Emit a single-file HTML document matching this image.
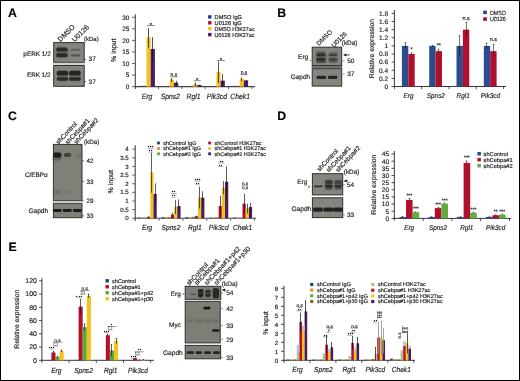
<!DOCTYPE html>
<html><head><meta charset="utf-8"><style>
html,body{margin:0;padding:0;background:#fff;}
body{width:520px;height:381px;overflow:hidden;position:relative;font-family:"Liberation Sans", sans-serif;}
svg text{text-rendering:geometricPrecision;font-family:"Liberation Sans", sans-serif;stroke:#222;stroke-width:0.16px;}
.frame{position:absolute;left:0;top:0;width:518px;height:379px;border:1px solid #000;pointer-events:none;}
</style></head><body>
<svg width="520" height="381" viewBox="0 0 520 381" style="display:block;will-change:transform">
<defs><filter id="b1" x="-50%" y="-100%" width="200%" height="300%"><feGaussianBlur stdDeviation="0.6"/></filter><filter id="b2" x="-50%" y="-100%" width="200%" height="300%"><feGaussianBlur stdDeviation="0.9"/></filter><filter id="b3" x="-50%" y="-100%" width="200%" height="300%"><feGaussianBlur stdDeviation="1.3"/></filter></defs>
<rect x="0.00" y="0.00" width="520.00" height="381.00" fill="#fff"/>
<text x="8.00" y="17.10" font-size="12.3" fill="#000" font-weight="bold">A</text>
<text x="50.70" y="56.00" font-size="6.4" fill="#222" text-anchor="end">pERK 1/2</text>
<text x="50.70" y="76.70" font-size="6.4" fill="#222" text-anchor="end">ERK 1/2</text>
<rect x="53.70" y="42.60" width="30.50" height="19.80" fill="#83867d" stroke="#2f302c" stroke-width="1"/>
<rect x="53.70" y="65.50" width="30.50" height="20.80" fill="#83867d" stroke="#2f302c" stroke-width="1"/>
<rect x="53.20" y="62.80" width="31.50" height="2.20" fill="#d4d4d2"/>
<rect x="55.70" y="47.10" width="12.60" height="10.60" rx="4.24" fill="#3a3b36" opacity="0.35" filter="url(#b2)"/>
<rect x="56.20" y="47.60" width="11.40" height="4.00" rx="1.60" fill="#2a2a28" opacity="1.0" filter="url(#b1)"/>
<rect x="56.20" y="53.30" width="11.40" height="4.00" rx="1.60" fill="#2a2a28" opacity="1.0" filter="url(#b1)"/>
<rect x="70.80" y="48.85" width="9.60" height="1.90" rx="0.76" fill="#5c5d57" opacity="0.9" filter="url(#b1)"/>
<rect x="70.80" y="54.30" width="9.60" height="2.20" rx="0.88" fill="#55564f" opacity="0.95" filter="url(#b1)"/>
<rect x="56.30" y="70.60" width="12.20" height="10.80" rx="4.32" fill="#3a3b36" opacity="0.3" filter="url(#b2)"/>
<rect x="68.70" y="70.60" width="12.40" height="10.80" rx="4.32" fill="#3a3b36" opacity="0.3" filter="url(#b2)"/>
<rect x="56.70" y="70.80" width="11.40" height="4.60" rx="1.84" fill="#262624" opacity="1.0" filter="url(#b1)"/>
<rect x="56.80" y="77.30" width="11.20" height="3.40" rx="1.36" fill="#2a2a28" opacity="1.0" filter="url(#b1)"/>
<rect x="69.10" y="70.80" width="11.60" height="4.60" rx="1.84" fill="#262624" opacity="1.0" filter="url(#b1)"/>
<rect x="69.20" y="77.30" width="11.40" height="3.40" rx="1.36" fill="#2a2a28" opacity="1.0" filter="url(#b1)"/>
<text x="60.60" y="42.20" font-size="7.0" fill="#222" transform="rotate(-45 60.60 42.20)">DMSO</text>
<text x="74.80" y="42.30" font-size="7.0" fill="#222" transform="rotate(-45 74.80 42.30)">U0126</text>
<text x="84.00" y="41.30" font-size="6.0" fill="#222">(kDa)</text>
<text x="88.60" y="61.40" font-size="6.5" fill="#222">37</text>
<text x="88.60" y="83.90" font-size="6.5" fill="#222">37</text>
<line x1="84.60" y1="59.50" x2="86.20" y2="59.50" stroke="#333" stroke-width="0.7"/>
<line x1="84.60" y1="81.60" x2="86.20" y2="81.60" stroke="#333" stroke-width="0.7"/>
<line x1="135.30" y1="14.20" x2="135.30" y2="89.10" stroke="#444" stroke-width="1.1"/>
<line x1="134.80" y1="86.60" x2="255.00" y2="86.60" stroke="#444" stroke-width="1.1"/>
<line x1="132.00" y1="86.60" x2="135.30" y2="86.60" stroke="#444" stroke-width="0.8"/>
<text x="129.30" y="88.90" font-size="6.4" fill="#222" text-anchor="end">0</text>
<line x1="132.00" y1="75.05" x2="135.30" y2="75.05" stroke="#444" stroke-width="0.8"/>
<text x="129.30" y="77.35" font-size="6.4" fill="#222" text-anchor="end">5</text>
<line x1="132.00" y1="63.50" x2="135.30" y2="63.50" stroke="#444" stroke-width="0.8"/>
<text x="129.30" y="65.80" font-size="6.4" fill="#222" text-anchor="end">10</text>
<line x1="132.00" y1="51.95" x2="135.30" y2="51.95" stroke="#444" stroke-width="0.8"/>
<text x="129.30" y="54.25" font-size="6.4" fill="#222" text-anchor="end">15</text>
<line x1="132.00" y1="40.40" x2="135.30" y2="40.40" stroke="#444" stroke-width="0.8"/>
<text x="129.30" y="42.70" font-size="6.4" fill="#222" text-anchor="end">20</text>
<line x1="132.00" y1="28.85" x2="135.30" y2="28.85" stroke="#444" stroke-width="0.8"/>
<text x="129.30" y="31.15" font-size="6.4" fill="#222" text-anchor="end">25</text>
<line x1="132.00" y1="17.30" x2="135.30" y2="17.30" stroke="#444" stroke-width="0.8"/>
<text x="129.30" y="19.60" font-size="6.4" fill="#222" text-anchor="end">30</text>
<text x="116.30" y="50.20" font-size="7.0" fill="#222" text-anchor="middle" transform="rotate(-90 116.30 50.20)">% input</text>
<line x1="158.60" y1="86.60" x2="158.60" y2="89.20" stroke="#444" stroke-width="0.8"/>
<line x1="181.90" y1="86.60" x2="181.90" y2="89.20" stroke="#444" stroke-width="0.8"/>
<line x1="205.20" y1="86.60" x2="205.20" y2="89.20" stroke="#444" stroke-width="0.8"/>
<line x1="228.50" y1="86.60" x2="228.50" y2="89.20" stroke="#444" stroke-width="0.8"/>
<line x1="251.80" y1="86.60" x2="251.80" y2="89.20" stroke="#444" stroke-width="0.8"/>
<rect x="138.10" y="85.92" width="4.20" height="0.68" fill="#1f3e8a"/>
<rect x="142.30" y="85.85" width="4.20" height="0.75" fill="#b3102c"/>
<rect x="146.50" y="37.46" width="4.20" height="49.14" fill="#f3c21a"/>
<rect x="150.70" y="49.01" width="4.20" height="37.59" fill="#4a1a66"/>
<line x1="148.50" y1="47.56" x2="148.50" y2="28.16" stroke="#1a1a1a" stroke-width="0.75"/>
<line x1="152.50" y1="61.65" x2="152.50" y2="37.17" stroke="#1a1a1a" stroke-width="0.75"/>
<text x="146.95" y="98.60" font-size="7.7" fill="#222" text-anchor="middle" font-style="italic" textLength="10.57" lengthAdjust="spacingAndGlyphs">Erg</text>
<rect x="161.40" y="85.97" width="4.20" height="0.63" fill="#1f3e8a"/>
<rect x="165.60" y="85.97" width="4.20" height="0.63" fill="#b3102c"/>
<rect x="169.80" y="79.59" width="4.20" height="7.01" fill="#f3c21a"/>
<rect x="174.00" y="82.73" width="4.20" height="3.86" fill="#4a1a66"/>
<line x1="171.50" y1="81.93" x2="171.50" y2="78.05" stroke="#1a1a1a" stroke-width="0.75"/>
<line x1="176.50" y1="85.44" x2="176.50" y2="80.82" stroke="#1a1a1a" stroke-width="0.75"/>
<text x="170.25" y="98.60" font-size="7.7" fill="#222" text-anchor="middle" font-style="italic" textLength="19.25" lengthAdjust="spacingAndGlyphs">Spns2</text>
<rect x="184.70" y="85.97" width="4.20" height="0.63" fill="#1f3e8a"/>
<rect x="188.90" y="85.97" width="4.20" height="0.63" fill="#b3102c"/>
<rect x="193.10" y="83.89" width="4.20" height="2.71" fill="#f3c21a"/>
<rect x="197.30" y="85.04" width="4.20" height="1.56" fill="#4a1a66"/>
<line x1="195.50" y1="86.14" x2="195.50" y2="82.44" stroke="#1a1a1a" stroke-width="0.75"/>
<line x1="199.50" y1="86.14" x2="199.50" y2="84.75" stroke="#1a1a1a" stroke-width="0.75"/>
<text x="193.55" y="98.60" font-size="7.7" fill="#222" text-anchor="middle" font-style="italic" textLength="13.96" lengthAdjust="spacingAndGlyphs">Rgl1</text>
<rect x="208.00" y="85.97" width="4.20" height="0.63" fill="#1f3e8a"/>
<rect x="212.20" y="85.97" width="4.20" height="0.63" fill="#b3102c"/>
<rect x="216.40" y="71.88" width="4.20" height="14.72" fill="#f3c21a"/>
<rect x="220.60" y="80.66" width="4.20" height="5.94" fill="#4a1a66"/>
<line x1="218.50" y1="83.13" x2="218.50" y2="61.42" stroke="#1a1a1a" stroke-width="0.75"/>
<line x1="222.50" y1="86.60" x2="222.50" y2="74.13" stroke="#1a1a1a" stroke-width="0.75"/>
<text x="216.85" y="98.60" font-size="7.7" fill="#222" text-anchor="middle" font-style="italic" textLength="20.38" lengthAdjust="spacingAndGlyphs">Pik3cd</text>
<rect x="231.30" y="85.92" width="4.20" height="0.68" fill="#1f3e8a"/>
<rect x="235.50" y="85.92" width="4.20" height="0.68" fill="#b3102c"/>
<rect x="239.70" y="78.81" width="4.20" height="7.79" fill="#f3c21a"/>
<rect x="243.90" y="80.42" width="4.20" height="6.18" fill="#4a1a66"/>
<line x1="241.50" y1="81.06" x2="241.50" y2="77.36" stroke="#1a1a1a" stroke-width="0.75"/>
<line x1="246.50" y1="81.75" x2="246.50" y2="79.90" stroke="#1a1a1a" stroke-width="0.75"/>
<text x="240.15" y="98.60" font-size="7.7" fill="#222" text-anchor="middle" font-style="italic" textLength="19.63" lengthAdjust="spacingAndGlyphs">Chek1</text>
<line x1="147.00" y1="25.50" x2="154.70" y2="25.50" stroke="#333" stroke-width="0.6"/>
<text x="150.85" y="26.80" font-size="6" fill="#222" text-anchor="middle">*</text>
<line x1="170.20" y1="76.80" x2="177.70" y2="76.80" stroke="#333" stroke-width="0.6"/>
<text x="173.95" y="75.90" font-size="5" fill="#222" text-anchor="middle">n.s</text>
<line x1="193.70" y1="80.70" x2="200.70" y2="80.70" stroke="#333" stroke-width="0.6"/>
<text x="197.20" y="82.00" font-size="6" fill="#222" text-anchor="middle">*</text>
<line x1="217.00" y1="60.50" x2="224.80" y2="60.50" stroke="#333" stroke-width="0.6"/>
<text x="220.90" y="61.80" font-size="6" fill="#222" text-anchor="middle">*</text>
<line x1="240.50" y1="74.60" x2="247.50" y2="74.60" stroke="#333" stroke-width="0.6"/>
<text x="244.00" y="73.70" font-size="5" fill="#222" text-anchor="middle">n.s</text>
<rect x="208.10" y="15.20" width="3.40" height="3.40" fill="#1f3e8a"/>
<text x="214.60" y="18.90" font-size="5.6" fill="#222">DMSO IgG</text>
<rect x="208.10" y="21.10" width="3.40" height="3.40" fill="#b3102c"/>
<text x="214.60" y="24.80" font-size="5.6" fill="#222">U0126 IgG</text>
<rect x="208.10" y="27.00" width="3.40" height="3.40" fill="#f3c21a"/>
<text x="214.60" y="30.70" font-size="5.6" fill="#222" textLength="40.00" lengthAdjust="spacingAndGlyphs">DMSO H3K27ac</text>
<rect x="208.10" y="32.90" width="3.40" height="3.40" fill="#4a1a66"/>
<text x="214.60" y="36.60" font-size="5.6" fill="#222" textLength="40.00" lengthAdjust="spacingAndGlyphs">U0126 H3K27ac</text>
<text x="277.20" y="16.70" font-size="12.3" fill="#000" font-weight="bold">B</text>
<text x="308.20" y="59.10" font-size="6.5" fill="#222" text-anchor="end">Erg</text>
<text x="310.20" y="78.70" font-size="6.5" fill="#222" text-anchor="end">Gapdh</text>
<rect x="312.20" y="47.20" width="29.50" height="18.30" fill="#83867d" stroke="#2f302c" stroke-width="1"/>
<rect x="311.70" y="65.90" width="30.50" height="2.30" fill="#70736f"/>
<rect x="312.20" y="68.70" width="29.50" height="17.40" fill="#83867d" stroke="#2f302c" stroke-width="1"/>
<rect x="316.20" y="52.15" width="9.60" height="10.50" rx="3.84" fill="#3c3d38" opacity="0.55" filter="url(#b2)"/>
<rect x="316.30" y="51.80" width="9.40" height="1.60" rx="0.64" fill="#262624" opacity="0.45" filter="url(#b1)"/>
<rect x="316.30" y="53.70" width="9.40" height="2.60" rx="1.04" fill="#262624" opacity="0.85" filter="url(#b1)"/>
<rect x="316.30" y="58.00" width="9.40" height="2.80" rx="1.12" fill="#262624" opacity="0.9" filter="url(#b1)"/>
<rect x="316.30" y="60.80" width="9.40" height="2.00" rx="0.80" fill="#262624" opacity="0.6" filter="url(#b1)"/>
<rect x="328.60" y="52.90" width="9.00" height="9.00" rx="3.60" fill="#454640" opacity="0.4" filter="url(#b2)"/>
<rect x="328.70" y="52.10" width="8.80" height="1.40" rx="0.56" fill="#2c2c2a" opacity="0.3" filter="url(#b1)"/>
<rect x="328.70" y="53.90" width="8.80" height="2.20" rx="0.88" fill="#2c2c2a" opacity="0.7" filter="url(#b1)"/>
<rect x="328.70" y="58.20" width="8.80" height="2.40" rx="0.96" fill="#2c2c2a" opacity="0.7" filter="url(#b1)"/>
<rect x="328.70" y="60.60" width="8.80" height="1.80" rx="0.72" fill="#2c2c2a" opacity="0.45" filter="url(#b1)"/>
<rect x="316.50" y="75.70" width="9.60" height="3.20" rx="1.28" fill="#262624" opacity="1.0" filter="url(#b1)"/>
<rect x="327.90" y="75.70" width="9.40" height="3.20" rx="1.28" fill="#262624" opacity="1.0" filter="url(#b1)"/>
<line x1="310.00" y1="60.40" x2="311.00" y2="60.40" stroke="#222" stroke-width="0.8"/>
<text x="319.10" y="46.00" font-size="6.4" fill="#222" transform="rotate(-45 319.10 46.00)">DMSO</text>
<text x="334.00" y="47.70" font-size="6.4" fill="#222" transform="rotate(-45 334.00 47.70)">U0126</text>
<text x="341.80" y="45.40" font-size="6.4" fill="#222">(kDa)</text>
<path d="M343.2 54.9 L346.2 53.4 L346.2 56.4 Z" fill="#111"/>
<line x1="345.50" y1="54.90" x2="349.80" y2="54.90" stroke="#111" stroke-width="0.8"/>
<text x="347.20" y="63.10" font-size="6.5" fill="#222">50</text>
<text x="347.20" y="76.40" font-size="6.5" fill="#222">37</text>
<line x1="343.20" y1="60.90" x2="344.40" y2="60.90" stroke="#333" stroke-width="0.7"/>
<line x1="343.20" y1="74.10" x2="344.40" y2="74.10" stroke="#333" stroke-width="0.7"/>
<line x1="394.40" y1="10.00" x2="394.40" y2="88.80" stroke="#222" stroke-width="0.9"/>
<line x1="393.90" y1="86.50" x2="506.00" y2="86.50" stroke="#222" stroke-width="0.9"/>
<line x1="391.60" y1="86.50" x2="394.40" y2="86.50" stroke="#222" stroke-width="0.8"/>
<text x="388.20" y="88.80" font-size="6.6" fill="#222" text-anchor="end">0</text>
<line x1="391.60" y1="78.38" x2="394.40" y2="78.38" stroke="#222" stroke-width="0.8"/>
<text x="388.20" y="80.68" font-size="6.6" fill="#222" text-anchor="end">0.2</text>
<line x1="391.60" y1="70.26" x2="394.40" y2="70.26" stroke="#222" stroke-width="0.8"/>
<text x="388.20" y="72.56" font-size="6.6" fill="#222" text-anchor="end">0.4</text>
<line x1="391.60" y1="62.14" x2="394.40" y2="62.14" stroke="#222" stroke-width="0.8"/>
<text x="388.20" y="64.44" font-size="6.6" fill="#222" text-anchor="end">0.6</text>
<line x1="391.60" y1="54.02" x2="394.40" y2="54.02" stroke="#222" stroke-width="0.8"/>
<text x="388.20" y="56.32" font-size="6.6" fill="#222" text-anchor="end">0.8</text>
<line x1="391.60" y1="45.90" x2="394.40" y2="45.90" stroke="#222" stroke-width="0.8"/>
<text x="388.20" y="48.20" font-size="6.6" fill="#222" text-anchor="end">1</text>
<line x1="391.60" y1="37.78" x2="394.40" y2="37.78" stroke="#222" stroke-width="0.8"/>
<text x="388.20" y="40.08" font-size="6.6" fill="#222" text-anchor="end">1.2</text>
<line x1="391.60" y1="29.66" x2="394.40" y2="29.66" stroke="#222" stroke-width="0.8"/>
<text x="388.20" y="31.96" font-size="6.6" fill="#222" text-anchor="end">1.4</text>
<line x1="391.60" y1="21.54" x2="394.40" y2="21.54" stroke="#222" stroke-width="0.8"/>
<text x="388.20" y="23.84" font-size="6.6" fill="#222" text-anchor="end">1.6</text>
<line x1="391.60" y1="13.42" x2="394.40" y2="13.42" stroke="#222" stroke-width="0.8"/>
<text x="388.20" y="15.72" font-size="6.6" fill="#222" text-anchor="end">1.8</text>
<text x="374.10" y="48.60" font-size="6.8" fill="#222" text-anchor="middle" transform="rotate(-90 374.10 48.60)">Relative expression</text>
<line x1="421.70" y1="86.50" x2="421.70" y2="89.10" stroke="#222" stroke-width="0.8"/>
<line x1="449.00" y1="86.50" x2="449.00" y2="89.10" stroke="#222" stroke-width="0.8"/>
<line x1="476.30" y1="86.50" x2="476.30" y2="89.10" stroke="#222" stroke-width="0.8"/>
<line x1="503.60" y1="86.50" x2="503.60" y2="89.10" stroke="#222" stroke-width="0.8"/>
<rect x="401.90" y="45.90" width="6.40" height="40.60" fill="#2c4c8e"/>
<rect x="408.30" y="54.02" width="6.40" height="32.48" fill="#b0102e"/>
<line x1="405.50" y1="49.15" x2="405.50" y2="42.65" stroke="#1a1a1a" stroke-width="0.6"/>
<line x1="404.60" y1="42.65" x2="406.40" y2="42.65" stroke="#1a1a1a" stroke-width="0.6"/>
<line x1="411.50" y1="55.24" x2="411.50" y2="52.80" stroke="#1a1a1a" stroke-width="0.6"/>
<line x1="410.60" y1="52.80" x2="412.40" y2="52.80" stroke="#1a1a1a" stroke-width="0.6"/>
<text x="408.55" y="98.10" font-size="7.0" fill="#222" text-anchor="middle" font-style="italic" textLength="9.96" lengthAdjust="spacingAndGlyphs">Erg</text>
<rect x="429.20" y="45.90" width="6.40" height="40.60" fill="#2c4c8e"/>
<rect x="435.60" y="51.18" width="6.40" height="35.32" fill="#b0102e"/>
<line x1="432.50" y1="46.31" x2="432.50" y2="45.49" stroke="#1a1a1a" stroke-width="0.6"/>
<line x1="431.60" y1="45.49" x2="433.40" y2="45.49" stroke="#1a1a1a" stroke-width="0.6"/>
<line x1="438.50" y1="53.21" x2="438.50" y2="49.15" stroke="#1a1a1a" stroke-width="0.6"/>
<line x1="437.60" y1="49.15" x2="439.40" y2="49.15" stroke="#1a1a1a" stroke-width="0.6"/>
<text x="435.85" y="98.10" font-size="7.0" fill="#222" text-anchor="middle" font-style="italic" textLength="18.15" lengthAdjust="spacingAndGlyphs">Spns2</text>
<rect x="456.50" y="45.90" width="6.40" height="40.60" fill="#2c4c8e"/>
<rect x="462.90" y="29.66" width="6.40" height="56.84" fill="#b0102e"/>
<line x1="459.50" y1="55.64" x2="459.50" y2="35.75" stroke="#1a1a1a" stroke-width="0.6"/>
<line x1="458.60" y1="35.75" x2="460.40" y2="35.75" stroke="#1a1a1a" stroke-width="0.6"/>
<line x1="466.50" y1="36.16" x2="466.50" y2="22.35" stroke="#1a1a1a" stroke-width="0.6"/>
<line x1="465.60" y1="22.35" x2="467.40" y2="22.35" stroke="#1a1a1a" stroke-width="0.6"/>
<text x="463.15" y="98.10" font-size="7.0" fill="#222" text-anchor="middle" font-style="italic" textLength="13.17" lengthAdjust="spacingAndGlyphs">Rgl1</text>
<rect x="483.80" y="45.90" width="6.40" height="40.60" fill="#2c4c8e"/>
<rect x="490.20" y="51.18" width="6.40" height="35.32" fill="#b0102e"/>
<line x1="486.50" y1="49.15" x2="486.50" y2="43.06" stroke="#1a1a1a" stroke-width="0.6"/>
<line x1="485.60" y1="43.06" x2="487.40" y2="43.06" stroke="#1a1a1a" stroke-width="0.6"/>
<line x1="493.50" y1="57.67" x2="493.50" y2="44.28" stroke="#1a1a1a" stroke-width="0.6"/>
<line x1="492.60" y1="44.28" x2="494.40" y2="44.28" stroke="#1a1a1a" stroke-width="0.6"/>
<text x="490.45" y="98.10" font-size="7.0" fill="#222" text-anchor="middle" font-style="italic" textLength="19.22" lengthAdjust="spacingAndGlyphs">Pik3cd</text>
<text x="411.50" y="50.98" font-size="5.5" fill="#222" text-anchor="middle">*</text>
<text x="438.80" y="47.33" font-size="5.5" fill="#222" text-anchor="middle">**</text>
<text x="466.10" y="20.00" font-size="5.5" fill="#222" text-anchor="middle">n.s</text>
<text x="493.40" y="41.30" font-size="5.5" fill="#222" text-anchor="middle">n.s</text>
<rect x="483.20" y="10.60" width="3.70" height="3.60" fill="#2c4c8e"/>
<text x="489.90" y="14.60" font-size="6.0" fill="#222" textLength="16.00" lengthAdjust="spacingAndGlyphs">DMSO</text>
<rect x="483.20" y="17.30" width="3.70" height="3.60" fill="#b0102e"/>
<text x="489.90" y="21.30" font-size="6.0" fill="#222" textLength="16.00" lengthAdjust="spacingAndGlyphs">U0126</text>
<text x="8.00" y="119.60" font-size="12.3" fill="#000" font-weight="bold">C</text>
<text x="47.80" y="176.80" font-size="6.4" fill="#222" text-anchor="end">C/EBPα</text>
<text x="48.20" y="212.60" font-size="6.6" fill="#222" text-anchor="end">Gapdh</text>
<rect x="53.40" y="144.40" width="28.60" height="56.40" fill="#7f8179" stroke="#2f302c" stroke-width="1"/>
<rect x="53.40" y="203.30" width="28.60" height="14.40" fill="#7f8179" stroke="#2f302c" stroke-width="1"/>
<rect x="53.30" y="155.50" width="8.00" height="5.00" rx="2.00" fill="#3a3b36" opacity="0.5" filter="url(#b2)"/>
<rect x="53.20" y="152.40" width="8.20" height="5.00" rx="2.00" fill="#1c1c1a" opacity="1.0" filter="url(#b1)"/>
<rect x="64.00" y="153.00" width="7.20" height="4.00" rx="1.60" fill="#3a3a36" opacity="0.85" filter="url(#b1)"/>
<rect x="75.20" y="154.10" width="5.60" height="3.00" rx="1.20" fill="#60625c" opacity="0.6" filter="url(#b2)"/>
<rect x="53.80" y="190.70" width="6.40" height="2.60" rx="1.04" fill="#55574f" opacity="0.7" filter="url(#b2)"/>
<rect x="63.80" y="191.10" width="6.00" height="2.20" rx="0.88" fill="#60625a" opacity="0.6" filter="url(#b2)"/>
<rect x="52.90" y="208.90" width="8.80" height="3.00" rx="1.20" fill="#1e1e1c" opacity="1.0" filter="url(#b1)"/>
<rect x="62.90" y="208.90" width="8.80" height="3.00" rx="1.20" fill="#1e1e1c" opacity="1.0" filter="url(#b1)"/>
<rect x="72.90" y="208.90" width="8.80" height="3.00" rx="1.20" fill="#1e1e1c" opacity="1.0" filter="url(#b1)"/>
<text x="58.60" y="144.60" font-size="6.45" fill="#222" transform="rotate(-47 58.60 144.60)">shControl</text>
<text x="67.70" y="145.00" font-size="6.45" fill="#222" transform="rotate(-47 67.70 145.00)">shCebpa#1</text>
<text x="76.50" y="144.60" font-size="6.45" fill="#222" transform="rotate(-47 76.50 144.60)">shCebpa#2</text>
<text x="84.00" y="143.60" font-size="6.3" fill="#222">(kDa)</text>
<text x="86.60" y="162.90" font-size="6.3" fill="#222">42</text>
<line x1="82.40" y1="160.70" x2="84.00" y2="160.70" stroke="#333" stroke-width="0.7"/>
<text x="86.60" y="183.50" font-size="6.3" fill="#222">33</text>
<line x1="82.40" y1="181.30" x2="84.00" y2="181.30" stroke="#333" stroke-width="0.7"/>
<text x="86.60" y="203.20" font-size="6.3" fill="#222">29</text>
<line x1="82.40" y1="201.00" x2="84.00" y2="201.00" stroke="#333" stroke-width="0.7"/>
<text x="86.60" y="218.10" font-size="6.3" fill="#222">33</text>
<line x1="82.40" y1="215.90" x2="84.00" y2="215.90" stroke="#333" stroke-width="0.7"/>
<line x1="135.20" y1="145.20" x2="135.20" y2="221.10" stroke="#444" stroke-width="1.1"/>
<line x1="134.70" y1="218.30" x2="256.00" y2="218.30" stroke="#444" stroke-width="1.1"/>
<line x1="132.20" y1="218.30" x2="135.20" y2="218.30" stroke="#444" stroke-width="0.8"/>
<text x="128.70" y="220.40" font-size="6.1" fill="#222" text-anchor="end">0</text>
<line x1="132.20" y1="209.65" x2="135.20" y2="209.65" stroke="#444" stroke-width="0.8"/>
<text x="128.70" y="211.75" font-size="6.1" fill="#222" text-anchor="end">0.5</text>
<line x1="132.20" y1="201.00" x2="135.20" y2="201.00" stroke="#444" stroke-width="0.8"/>
<text x="128.70" y="203.10" font-size="6.1" fill="#222" text-anchor="end">1</text>
<line x1="132.20" y1="192.35" x2="135.20" y2="192.35" stroke="#444" stroke-width="0.8"/>
<text x="128.70" y="194.45" font-size="6.1" fill="#222" text-anchor="end">1.5</text>
<line x1="132.20" y1="183.70" x2="135.20" y2="183.70" stroke="#444" stroke-width="0.8"/>
<text x="128.70" y="185.80" font-size="6.1" fill="#222" text-anchor="end">2</text>
<line x1="132.20" y1="175.05" x2="135.20" y2="175.05" stroke="#444" stroke-width="0.8"/>
<text x="128.70" y="177.15" font-size="6.1" fill="#222" text-anchor="end">2.5</text>
<line x1="132.20" y1="166.40" x2="135.20" y2="166.40" stroke="#444" stroke-width="0.8"/>
<text x="128.70" y="168.50" font-size="6.1" fill="#222" text-anchor="end">3</text>
<line x1="132.20" y1="157.75" x2="135.20" y2="157.75" stroke="#444" stroke-width="0.8"/>
<text x="128.70" y="159.85" font-size="6.1" fill="#222" text-anchor="end">3.5</text>
<line x1="132.20" y1="149.10" x2="135.20" y2="149.10" stroke="#444" stroke-width="0.8"/>
<text x="128.70" y="151.20" font-size="6.1" fill="#222" text-anchor="end">4</text>
<text x="113.20" y="181.80" font-size="7.0" fill="#222" text-anchor="middle" transform="rotate(-90 113.20 181.80)">% input</text>
<line x1="159.05" y1="218.30" x2="159.05" y2="220.80" stroke="#444" stroke-width="0.8"/>
<line x1="182.90" y1="218.30" x2="182.90" y2="220.80" stroke="#444" stroke-width="0.8"/>
<line x1="206.75" y1="218.30" x2="206.75" y2="220.80" stroke="#444" stroke-width="0.8"/>
<line x1="230.60" y1="218.30" x2="230.60" y2="220.80" stroke="#444" stroke-width="0.8"/>
<line x1="254.45" y1="218.30" x2="254.45" y2="220.80" stroke="#444" stroke-width="0.8"/>
<rect x="137.50" y="217.58" width="3.20" height="0.72" fill="#1f3e8a"/>
<rect x="140.70" y="217.58" width="3.20" height="0.72" fill="#e8901c"/>
<rect x="143.90" y="217.58" width="3.20" height="0.72" fill="#5aab3c"/>
<rect x="147.10" y="216.72" width="3.20" height="1.58" fill="#b3102c"/>
<rect x="150.30" y="172.43" width="3.20" height="45.87" fill="#f3c21a"/>
<rect x="153.50" y="193.88" width="3.20" height="24.42" fill="#4a1a66"/>
<line x1="148.50" y1="217.26" x2="148.50" y2="216.57" stroke="#1a1a1a" stroke-width="0.7"/>
<line x1="151.50" y1="192.70" x2="151.50" y2="152.56" stroke="#1a1a1a" stroke-width="0.7"/>
<line x1="155.50" y1="204.81" x2="155.50" y2="183.35" stroke="#1a1a1a" stroke-width="0.7"/>
<text x="147.12" y="230.10" font-size="7.34" fill="#222" text-anchor="middle" font-style="italic" textLength="10.26" lengthAdjust="spacingAndGlyphs">Erg</text>
<rect x="161.35" y="217.24" width="3.20" height="1.07" fill="#1f3e8a"/>
<rect x="164.55" y="217.06" width="3.20" height="1.24" fill="#e8901c"/>
<rect x="167.75" y="217.06" width="3.20" height="1.24" fill="#5aab3c"/>
<rect x="170.95" y="214.64" width="3.20" height="3.66" fill="#b3102c"/>
<rect x="174.15" y="206.86" width="3.20" height="11.45" fill="#f3c21a"/>
<rect x="177.35" y="205.99" width="3.20" height="12.31" fill="#4a1a66"/>
<line x1="172.50" y1="217.09" x2="172.50" y2="212.59" stroke="#1a1a1a" stroke-width="0.7"/>
<line x1="175.50" y1="214.15" x2="175.50" y2="199.96" stroke="#1a1a1a" stroke-width="0.7"/>
<line x1="178.50" y1="212.94" x2="178.50" y2="199.44" stroke="#1a1a1a" stroke-width="0.7"/>
<text x="170.97" y="230.10" font-size="7.34" fill="#222" text-anchor="middle" font-style="italic" textLength="18.70" lengthAdjust="spacingAndGlyphs">Spns2</text>
<rect x="185.20" y="217.24" width="3.20" height="1.07" fill="#1f3e8a"/>
<rect x="188.40" y="217.24" width="3.20" height="1.07" fill="#e8901c"/>
<rect x="191.60" y="216.72" width="3.20" height="1.58" fill="#5aab3c"/>
<rect x="194.80" y="216.37" width="3.20" height="1.93" fill="#b3102c"/>
<rect x="198.00" y="197.34" width="3.20" height="20.96" fill="#f3c21a"/>
<rect x="201.20" y="197.69" width="3.20" height="20.61" fill="#4a1a66"/>
<line x1="196.50" y1="217.44" x2="196.50" y2="215.71" stroke="#1a1a1a" stroke-width="0.7"/>
<line x1="199.50" y1="208.44" x2="199.50" y2="186.64" stroke="#1a1a1a" stroke-width="0.7"/>
<line x1="202.50" y1="204.46" x2="202.50" y2="191.31" stroke="#1a1a1a" stroke-width="0.7"/>
<text x="194.82" y="230.10" font-size="7.34" fill="#222" text-anchor="middle" font-style="italic" textLength="13.57" lengthAdjust="spacingAndGlyphs">Rgl1</text>
<rect x="209.05" y="217.75" width="3.20" height="0.55" fill="#1f3e8a"/>
<rect x="212.25" y="217.41" width="3.20" height="0.89" fill="#e8901c"/>
<rect x="215.45" y="217.24" width="3.20" height="1.07" fill="#5aab3c"/>
<rect x="218.65" y="205.99" width="3.20" height="12.31" fill="#b3102c"/>
<rect x="221.85" y="187.48" width="3.20" height="30.82" fill="#f3c21a"/>
<rect x="225.05" y="181.77" width="3.20" height="36.53" fill="#4a1a66"/>
<line x1="220.50" y1="216.57" x2="220.50" y2="195.81" stroke="#1a1a1a" stroke-width="0.7"/>
<line x1="223.50" y1="194.25" x2="223.50" y2="181.11" stroke="#1a1a1a" stroke-width="0.7"/>
<line x1="226.50" y1="197.54" x2="226.50" y2="166.40" stroke="#1a1a1a" stroke-width="0.7"/>
<text x="218.68" y="230.10" font-size="7.34" fill="#222" text-anchor="middle" font-style="italic" textLength="19.80" lengthAdjust="spacingAndGlyphs">Pik3cd</text>
<rect x="232.90" y="217.58" width="3.20" height="0.72" fill="#1f3e8a"/>
<rect x="236.10" y="217.58" width="3.20" height="0.72" fill="#e8901c"/>
<rect x="239.30" y="217.58" width="3.20" height="0.72" fill="#5aab3c"/>
<rect x="242.50" y="203.57" width="3.20" height="14.73" fill="#b3102c"/>
<rect x="245.70" y="208.24" width="3.20" height="10.06" fill="#f3c21a"/>
<rect x="248.90" y="207.03" width="3.20" height="11.27" fill="#4a1a66"/>
<line x1="244.50" y1="213.98" x2="244.50" y2="193.56" stroke="#1a1a1a" stroke-width="0.7"/>
<line x1="247.50" y1="213.28" x2="247.50" y2="203.59" stroke="#1a1a1a" stroke-width="0.7"/>
<line x1="250.50" y1="211.73" x2="250.50" y2="202.73" stroke="#1a1a1a" stroke-width="0.7"/>
<text x="242.53" y="230.10" font-size="7.34" fill="#222" text-anchor="middle" font-style="italic" textLength="19.07" lengthAdjust="spacingAndGlyphs">Chek1</text>
<circle cx="148.50" cy="146.50" r="0.72" fill="#1a1a1a"/>
<circle cx="150.50" cy="146.50" r="0.72" fill="#1a1a1a"/>
<circle cx="152.50" cy="146.50" r="0.72" fill="#1a1a1a"/>
<line x1="147.60" y1="148.40" x2="153.60" y2="148.40" stroke="#555" stroke-width="0.45"/>
<circle cx="149.50" cy="150.50" r="0.7" fill="#1a1a1a"/>
<circle cx="151.50" cy="150.50" r="0.7" fill="#1a1a1a"/>
<line x1="148.10" y1="152.10" x2="153.10" y2="152.10" stroke="#666" stroke-width="0.4"/>
<circle cx="172.50" cy="191.50" r="0.72" fill="#1a1a1a"/>
<circle cx="174.50" cy="191.50" r="0.72" fill="#1a1a1a"/>
<line x1="170.80" y1="193.60" x2="176.80" y2="193.60" stroke="#555" stroke-width="0.45"/>
<circle cx="172.50" cy="195.50" r="0.7" fill="#1a1a1a"/>
<circle cx="174.50" cy="195.50" r="0.7" fill="#1a1a1a"/>
<line x1="171.30" y1="197.30" x2="176.30" y2="197.30" stroke="#666" stroke-width="0.4"/>
<circle cx="195.50" cy="179.50" r="0.72" fill="#1a1a1a"/>
<circle cx="197.50" cy="179.50" r="0.72" fill="#1a1a1a"/>
<circle cx="199.50" cy="179.50" r="0.72" fill="#1a1a1a"/>
<line x1="194.50" y1="181.10" x2="200.50" y2="181.10" stroke="#555" stroke-width="0.45"/>
<circle cx="196.50" cy="183.50" r="0.7" fill="#1a1a1a"/>
<circle cx="198.50" cy="183.50" r="0.7" fill="#1a1a1a"/>
<line x1="195.00" y1="184.80" x2="200.00" y2="184.80" stroke="#666" stroke-width="0.4"/>
<circle cx="220.50" cy="161.50" r="0.72" fill="#1a1a1a"/>
<circle cx="222.50" cy="161.50" r="0.72" fill="#1a1a1a"/>
<line x1="218.20" y1="162.90" x2="224.20" y2="162.90" stroke="#555" stroke-width="0.45"/>
<circle cx="219.50" cy="165.50" r="0.7" fill="#1a1a1a"/>
<circle cx="221.50" cy="165.50" r="0.7" fill="#1a1a1a"/>
<line x1="218.70" y1="166.60" x2="223.70" y2="166.60" stroke="#666" stroke-width="0.4"/>
<text x="245.00" y="184.80" font-size="4.6" fill="#333" text-anchor="middle">n.s</text>
<line x1="242.00" y1="185.40" x2="248.00" y2="185.40" stroke="#555" stroke-width="0.45"/>
<text x="245.00" y="188.80" font-size="4.6" fill="#333" text-anchor="middle">n.s</text>
<line x1="242.50" y1="189.10" x2="247.50" y2="189.10" stroke="#666" stroke-width="0.4"/>
<rect x="157.10" y="141.60" width="2.80" height="2.80" fill="#1f3e8a"/>
<text x="163.20" y="144.80" font-size="5.4" fill="#222">shControl IgG</text>
<rect x="157.10" y="147.00" width="2.80" height="2.80" fill="#e8901c"/>
<text x="163.20" y="150.20" font-size="5.4" fill="#222">shCebpa#1 IgG</text>
<rect x="157.10" y="152.40" width="2.80" height="2.80" fill="#5aab3c"/>
<text x="163.20" y="155.60" font-size="5.4" fill="#222">shCebpa#2 IgG</text>
<rect x="208.20" y="141.60" width="2.80" height="2.80" fill="#b3102c"/>
<text x="214.60" y="144.80" font-size="5.4" fill="#222">shControl H3K27ac</text>
<rect x="208.20" y="147.00" width="2.80" height="2.80" fill="#f3c21a"/>
<text x="214.60" y="150.20" font-size="5.4" fill="#222">shCebpa#1 H3K27ac</text>
<rect x="208.20" y="152.40" width="2.80" height="2.80" fill="#4a1a66"/>
<text x="214.60" y="155.60" font-size="5.4" fill="#222">shCebpa#2 H3K27ac</text>
<text x="277.30" y="119.60" font-size="12.3" fill="#000" font-weight="bold">D</text>
<text x="307.40" y="183.80" font-size="6.5" fill="#222" text-anchor="end">Erg</text>
<text x="308.80" y="188.60" font-size="4.5" fill="#222" text-anchor="middle">*</text>
<text x="311.30" y="211.00" font-size="6.6" fill="#222" text-anchor="end">Gapdh</text>
<rect x="312.40" y="173.70" width="30.30" height="21.20" fill="#83867d" stroke="#2f302c" stroke-width="1"/>
<rect x="312.40" y="197.80" width="30.30" height="19.80" fill="#83867d" stroke="#2f302c" stroke-width="1"/>
<rect x="314.10" y="185.45" width="8.60" height="1.90" rx="0.76" fill="#2a2a28" opacity="0.95" filter="url(#b1)"/>
<rect x="325.00" y="179.85" width="7.60" height="9.50" rx="3.04" fill="#34352f" opacity="0.55" filter="url(#b2)"/>
<rect x="325.10" y="180.50" width="7.40" height="2.20" rx="0.88" fill="#262624" opacity="0.8" filter="url(#b1)"/>
<rect x="325.10" y="182.90" width="7.40" height="1.40" rx="0.56" fill="#2a2a28" opacity="0.6" filter="url(#b1)"/>
<rect x="325.10" y="184.90" width="7.40" height="2.60" rx="1.04" fill="#222220" opacity="0.95" filter="url(#b1)"/>
<rect x="325.30" y="187.80" width="7.00" height="1.60" rx="0.64" fill="#2e2e2c" opacity="0.5" filter="url(#b1)"/>
<rect x="334.50" y="179.85" width="7.60" height="9.50" rx="3.04" fill="#34352f" opacity="0.4675" filter="url(#b2)"/>
<rect x="334.60" y="180.50" width="7.40" height="2.20" rx="0.88" fill="#262624" opacity="0.68" filter="url(#b1)"/>
<rect x="334.60" y="182.90" width="7.40" height="1.40" rx="0.56" fill="#2a2a28" opacity="0.51" filter="url(#b1)"/>
<rect x="334.60" y="184.90" width="7.40" height="2.60" rx="1.04" fill="#222220" opacity="0.8075" filter="url(#b1)"/>
<rect x="334.80" y="187.80" width="7.00" height="1.60" rx="0.64" fill="#2e2e2c" opacity="0.425" filter="url(#b1)"/>
<rect x="313.00" y="207.40" width="10.00" height="4.40" rx="1.76" fill="#232321" opacity="1.0" filter="url(#b1)"/>
<rect x="323.40" y="207.40" width="10.00" height="4.40" rx="1.76" fill="#232321" opacity="1.0" filter="url(#b1)"/>
<rect x="333.00" y="207.40" width="10.00" height="4.40" rx="1.76" fill="#232321" opacity="1.0" filter="url(#b1)"/>
<text x="319.60" y="171.80" font-size="6.45" fill="#222" transform="rotate(-47 319.60 171.80)">shControl</text>
<text x="328.80" y="172.50" font-size="6.45" fill="#222" transform="rotate(-47 328.80 172.50)">shCebpa#1</text>
<text x="338.20" y="172.40" font-size="6.45" fill="#222" transform="rotate(-47 338.20 172.40)">shCebpa#2</text>
<text x="343.80" y="173.60" font-size="6.4" fill="#222">(kDa)</text>
<path d="M343.6 180.9 L346.6 179.4 L346.6 182.4 Z" fill="#111"/>
<line x1="346.00" y1="180.90" x2="348.20" y2="180.90" stroke="#111" stroke-width="0.8"/>
<text x="347.00" y="187.00" font-size="6.5" fill="#222">54</text>
<text x="347.00" y="217.20" font-size="6.5" fill="#222">33</text>
<line x1="343.40" y1="184.60" x2="344.60" y2="184.60" stroke="#333" stroke-width="0.7"/>
<line x1="343.40" y1="215.00" x2="344.60" y2="215.00" stroke="#333" stroke-width="0.7"/>
<line x1="394.30" y1="150.90" x2="394.30" y2="220.70" stroke="#222" stroke-width="0.9"/>
<line x1="393.80" y1="218.40" x2="511.00" y2="218.40" stroke="#222" stroke-width="0.9"/>
<line x1="391.50" y1="218.40" x2="394.30" y2="218.40" stroke="#222" stroke-width="0.8"/>
<text x="389.20" y="220.70" font-size="6.6" fill="#222" text-anchor="end">0</text>
<line x1="391.50" y1="211.25" x2="394.30" y2="211.25" stroke="#222" stroke-width="0.8"/>
<text x="389.20" y="213.55" font-size="6.6" fill="#222" text-anchor="end">5</text>
<line x1="391.50" y1="204.10" x2="394.30" y2="204.10" stroke="#222" stroke-width="0.8"/>
<text x="389.20" y="206.40" font-size="6.6" fill="#222" text-anchor="end">10</text>
<line x1="391.50" y1="196.95" x2="394.30" y2="196.95" stroke="#222" stroke-width="0.8"/>
<text x="389.20" y="199.25" font-size="6.6" fill="#222" text-anchor="end">15</text>
<line x1="391.50" y1="189.80" x2="394.30" y2="189.80" stroke="#222" stroke-width="0.8"/>
<text x="389.20" y="192.10" font-size="6.6" fill="#222" text-anchor="end">20</text>
<line x1="391.50" y1="182.65" x2="394.30" y2="182.65" stroke="#222" stroke-width="0.8"/>
<text x="389.20" y="184.95" font-size="6.6" fill="#222" text-anchor="end">25</text>
<line x1="391.50" y1="175.50" x2="394.30" y2="175.50" stroke="#222" stroke-width="0.8"/>
<text x="389.20" y="177.80" font-size="6.6" fill="#222" text-anchor="end">30</text>
<line x1="391.50" y1="168.35" x2="394.30" y2="168.35" stroke="#222" stroke-width="0.8"/>
<text x="389.20" y="170.65" font-size="6.6" fill="#222" text-anchor="end">35</text>
<line x1="391.50" y1="161.20" x2="394.30" y2="161.20" stroke="#222" stroke-width="0.8"/>
<text x="389.20" y="163.50" font-size="6.6" fill="#222" text-anchor="end">40</text>
<line x1="391.50" y1="154.05" x2="394.30" y2="154.05" stroke="#222" stroke-width="0.8"/>
<text x="389.20" y="156.35" font-size="6.6" fill="#222" text-anchor="end">45</text>
<text x="375.60" y="184.60" font-size="6.9" fill="#222" text-anchor="middle" transform="rotate(-90 375.60 184.60)">Relative expression</text>
<line x1="423.10" y1="218.40" x2="423.10" y2="221.00" stroke="#222" stroke-width="0.8"/>
<line x1="451.90" y1="218.40" x2="451.90" y2="221.00" stroke="#222" stroke-width="0.8"/>
<line x1="480.70" y1="218.40" x2="480.70" y2="221.00" stroke="#222" stroke-width="0.8"/>
<line x1="509.50" y1="218.40" x2="509.50" y2="221.00" stroke="#222" stroke-width="0.8"/>
<rect x="399.40" y="216.97" width="6.60" height="1.43" fill="#2c4c8e"/>
<line x1="402.50" y1="216.97" x2="402.50" y2="216.54" stroke="#1a1a1a" stroke-width="0.6"/>
<line x1="401.60" y1="216.54" x2="403.40" y2="216.54" stroke="#1a1a1a" stroke-width="0.6"/>
<rect x="406.00" y="199.95" width="6.60" height="18.45" fill="#b0102e"/>
<line x1="409.50" y1="199.95" x2="409.50" y2="198.52" stroke="#1a1a1a" stroke-width="0.6"/>
<line x1="408.60" y1="198.52" x2="410.40" y2="198.52" stroke="#1a1a1a" stroke-width="0.6"/>
<text x="409.30" y="196.92" font-size="5.0" fill="#222" text-anchor="middle">***</text>
<rect x="412.60" y="212.25" width="6.60" height="6.15" fill="#62ad3f"/>
<line x1="415.50" y1="212.25" x2="415.50" y2="211.82" stroke="#1a1a1a" stroke-width="0.6"/>
<line x1="414.60" y1="211.82" x2="416.40" y2="211.82" stroke="#1a1a1a" stroke-width="0.6"/>
<text x="415.90" y="210.22" font-size="5.0" fill="#222" text-anchor="middle">***</text>
<text x="409.20" y="230.30" font-size="7.0" fill="#222" text-anchor="middle" font-style="italic" textLength="9.96" lengthAdjust="spacingAndGlyphs">Erg</text>
<rect x="428.20" y="216.97" width="6.60" height="1.43" fill="#2c4c8e"/>
<line x1="431.50" y1="216.97" x2="431.50" y2="216.68" stroke="#1a1a1a" stroke-width="0.6"/>
<line x1="430.60" y1="216.68" x2="432.40" y2="216.68" stroke="#1a1a1a" stroke-width="0.6"/>
<rect x="434.80" y="208.10" width="6.60" height="10.30" fill="#b0102e"/>
<line x1="438.50" y1="208.10" x2="438.50" y2="207.39" stroke="#1a1a1a" stroke-width="0.6"/>
<line x1="437.60" y1="207.39" x2="439.40" y2="207.39" stroke="#1a1a1a" stroke-width="0.6"/>
<text x="438.10" y="205.79" font-size="5.0" fill="#222" text-anchor="middle">***</text>
<rect x="441.40" y="203.67" width="6.60" height="14.73" fill="#62ad3f"/>
<line x1="444.50" y1="203.67" x2="444.50" y2="203.10" stroke="#1a1a1a" stroke-width="0.6"/>
<line x1="443.60" y1="203.10" x2="445.40" y2="203.10" stroke="#1a1a1a" stroke-width="0.6"/>
<text x="444.70" y="201.50" font-size="5.0" fill="#222" text-anchor="middle">***</text>
<text x="438.00" y="230.30" font-size="7.0" fill="#222" text-anchor="middle" font-style="italic" textLength="18.15" lengthAdjust="spacingAndGlyphs">Spns2</text>
<rect x="457.00" y="216.97" width="6.60" height="1.43" fill="#2c4c8e"/>
<line x1="460.50" y1="216.97" x2="460.50" y2="216.68" stroke="#1a1a1a" stroke-width="0.6"/>
<line x1="459.60" y1="216.68" x2="461.40" y2="216.68" stroke="#1a1a1a" stroke-width="0.6"/>
<rect x="463.60" y="162.92" width="6.60" height="55.48" fill="#b0102e"/>
<line x1="466.50" y1="162.92" x2="466.50" y2="160.91" stroke="#1a1a1a" stroke-width="0.6"/>
<line x1="465.60" y1="160.91" x2="467.40" y2="160.91" stroke="#1a1a1a" stroke-width="0.6"/>
<text x="466.90" y="159.31" font-size="5.0" fill="#222" text-anchor="middle">***</text>
<rect x="470.20" y="212.82" width="6.60" height="5.58" fill="#62ad3f"/>
<line x1="473.50" y1="212.82" x2="473.50" y2="212.25" stroke="#1a1a1a" stroke-width="0.6"/>
<line x1="472.60" y1="212.25" x2="474.40" y2="212.25" stroke="#1a1a1a" stroke-width="0.6"/>
<text x="473.50" y="210.65" font-size="5.0" fill="#222" text-anchor="middle">***</text>
<text x="466.80" y="230.30" font-size="7.0" fill="#222" text-anchor="middle" font-style="italic" textLength="13.17" lengthAdjust="spacingAndGlyphs">Rgl1</text>
<rect x="485.80" y="216.97" width="6.60" height="1.43" fill="#2c4c8e"/>
<line x1="489.50" y1="216.97" x2="489.50" y2="216.68" stroke="#1a1a1a" stroke-width="0.6"/>
<line x1="488.60" y1="216.68" x2="490.40" y2="216.68" stroke="#1a1a1a" stroke-width="0.6"/>
<rect x="492.40" y="215.25" width="6.60" height="3.15" fill="#b0102e"/>
<line x1="495.50" y1="215.25" x2="495.50" y2="214.83" stroke="#1a1a1a" stroke-width="0.6"/>
<line x1="494.60" y1="214.83" x2="496.40" y2="214.83" stroke="#1a1a1a" stroke-width="0.6"/>
<text x="495.70" y="213.23" font-size="5.0" fill="#222" text-anchor="middle">**</text>
<rect x="499.00" y="214.68" width="6.60" height="3.72" fill="#62ad3f"/>
<line x1="502.50" y1="214.68" x2="502.50" y2="214.25" stroke="#1a1a1a" stroke-width="0.6"/>
<line x1="501.60" y1="214.25" x2="503.40" y2="214.25" stroke="#1a1a1a" stroke-width="0.6"/>
<text x="502.30" y="212.65" font-size="5.0" fill="#222" text-anchor="middle">***</text>
<text x="495.60" y="230.30" font-size="7.0" fill="#222" text-anchor="middle" font-style="italic" textLength="19.22" lengthAdjust="spacingAndGlyphs">Pik3cd</text>
<rect x="477.40" y="152.00" width="3.50" height="3.50" fill="#2c4c8e"/>
<text x="483.60" y="155.70" font-size="5.7" fill="#222">shControl</text>
<rect x="477.40" y="157.95" width="3.50" height="3.50" fill="#b0102e"/>
<text x="483.60" y="161.65" font-size="5.7" fill="#222">shCebpa#1</text>
<rect x="477.40" y="163.90" width="3.50" height="3.50" fill="#62ad3f"/>
<text x="483.60" y="167.60" font-size="5.7" fill="#222">shCebpa#2</text>
<text x="8.60" y="251.30" font-size="12.3" fill="#000" font-weight="bold">E</text>
<line x1="41.90" y1="278.30" x2="41.90" y2="362.80" stroke="#222" stroke-width="0.9"/>
<line x1="41.40" y1="360.30" x2="154.00" y2="360.30" stroke="#222" stroke-width="0.9"/>
<line x1="39.00" y1="360.30" x2="41.90" y2="360.30" stroke="#222" stroke-width="0.8"/>
<text x="36.80" y="362.70" font-size="6.9" fill="#222" text-anchor="end">0</text>
<line x1="39.00" y1="347.05" x2="41.90" y2="347.05" stroke="#222" stroke-width="0.8"/>
<text x="36.80" y="349.45" font-size="6.9" fill="#222" text-anchor="end">20</text>
<line x1="39.00" y1="333.80" x2="41.90" y2="333.80" stroke="#222" stroke-width="0.8"/>
<text x="36.80" y="336.20" font-size="6.9" fill="#222" text-anchor="end">40</text>
<line x1="39.00" y1="320.55" x2="41.90" y2="320.55" stroke="#222" stroke-width="0.8"/>
<text x="36.80" y="322.95" font-size="6.9" fill="#222" text-anchor="end">60</text>
<line x1="39.00" y1="307.30" x2="41.90" y2="307.30" stroke="#222" stroke-width="0.8"/>
<text x="36.80" y="309.70" font-size="6.9" fill="#222" text-anchor="end">80</text>
<line x1="39.00" y1="294.05" x2="41.90" y2="294.05" stroke="#222" stroke-width="0.8"/>
<text x="36.80" y="296.45" font-size="6.9" fill="#222" text-anchor="end">100</text>
<line x1="39.00" y1="280.80" x2="41.90" y2="280.80" stroke="#222" stroke-width="0.8"/>
<text x="36.80" y="283.20" font-size="6.9" fill="#222" text-anchor="end">120</text>
<text x="19.00" y="319.20" font-size="6.8" fill="#222" text-anchor="middle" textLength="59.00" lengthAdjust="spacingAndGlyphs" transform="rotate(-90 19.00 319.20)">Relative expression</text>
<line x1="69.10" y1="360.30" x2="69.10" y2="362.80" stroke="#222" stroke-width="0.8"/>
<line x1="96.30" y1="360.30" x2="96.30" y2="362.80" stroke="#222" stroke-width="0.8"/>
<line x1="123.50" y1="360.30" x2="123.50" y2="362.80" stroke="#222" stroke-width="0.8"/>
<line x1="150.70" y1="360.30" x2="150.70" y2="362.80" stroke="#222" stroke-width="0.8"/>
<rect x="47.30" y="359.97" width="4.10" height="0.33" fill="#1f3e8a"/>
<rect x="51.40" y="352.55" width="4.10" height="7.75" fill="#b3102c"/>
<line x1="53.50" y1="353.54" x2="53.50" y2="351.56" stroke="#1a1a1a" stroke-width="0.7"/>
<line x1="52.80" y1="351.56" x2="54.20" y2="351.56" stroke="#1a1a1a" stroke-width="0.7"/>
<rect x="55.50" y="356.92" width="4.10" height="3.38" fill="#5aab3c"/>
<line x1="57.50" y1="357.52" x2="57.50" y2="356.32" stroke="#1a1a1a" stroke-width="0.7"/>
<line x1="56.80" y1="356.32" x2="58.20" y2="356.32" stroke="#1a1a1a" stroke-width="0.7"/>
<rect x="59.60" y="351.03" width="4.10" height="9.28" fill="#f3c21a"/>
<line x1="61.50" y1="352.02" x2="61.50" y2="350.03" stroke="#1a1a1a" stroke-width="0.7"/>
<line x1="60.80" y1="350.03" x2="62.20" y2="350.03" stroke="#1a1a1a" stroke-width="0.7"/>
<text x="56.30" y="372.80" font-size="7.34" fill="#222" text-anchor="middle" font-style="italic" textLength="10.26" lengthAdjust="spacingAndGlyphs">Erg</text>
<rect x="74.50" y="359.97" width="4.10" height="0.33" fill="#1f3e8a"/>
<rect x="78.60" y="306.64" width="4.10" height="53.66" fill="#b3102c"/>
<line x1="80.50" y1="313.93" x2="80.50" y2="299.35" stroke="#1a1a1a" stroke-width="0.7"/>
<line x1="79.80" y1="299.35" x2="81.20" y2="299.35" stroke="#1a1a1a" stroke-width="0.7"/>
<rect x="82.70" y="327.18" width="4.10" height="33.12" fill="#5aab3c"/>
<line x1="84.50" y1="330.49" x2="84.50" y2="323.86" stroke="#1a1a1a" stroke-width="0.7"/>
<line x1="83.80" y1="323.86" x2="85.20" y2="323.86" stroke="#1a1a1a" stroke-width="0.7"/>
<rect x="86.80" y="296.04" width="4.10" height="64.26" fill="#f3c21a"/>
<line x1="88.50" y1="298.03" x2="88.50" y2="294.05" stroke="#1a1a1a" stroke-width="0.7"/>
<line x1="87.80" y1="294.05" x2="89.20" y2="294.05" stroke="#1a1a1a" stroke-width="0.7"/>
<text x="83.50" y="372.80" font-size="7.34" fill="#222" text-anchor="middle" font-style="italic" textLength="18.70" lengthAdjust="spacingAndGlyphs">Spns2</text>
<rect x="101.70" y="360.10" width="4.10" height="0.20" fill="#1f3e8a"/>
<rect x="105.80" y="335.26" width="4.10" height="25.04" fill="#b3102c"/>
<line x1="107.50" y1="336.38" x2="107.50" y2="334.13" stroke="#1a1a1a" stroke-width="0.7"/>
<line x1="106.80" y1="334.13" x2="108.20" y2="334.13" stroke="#1a1a1a" stroke-width="0.7"/>
<rect x="109.90" y="350.36" width="4.10" height="9.94" fill="#5aab3c"/>
<line x1="111.50" y1="356.32" x2="111.50" y2="344.40" stroke="#1a1a1a" stroke-width="0.7"/>
<line x1="110.80" y1="344.40" x2="112.20" y2="344.40" stroke="#1a1a1a" stroke-width="0.7"/>
<rect x="114.00" y="341.09" width="4.10" height="19.21" fill="#f3c21a"/>
<line x1="116.50" y1="343.74" x2="116.50" y2="338.44" stroke="#1a1a1a" stroke-width="0.7"/>
<line x1="115.80" y1="338.44" x2="117.20" y2="338.44" stroke="#1a1a1a" stroke-width="0.7"/>
<text x="110.70" y="372.80" font-size="7.34" fill="#222" text-anchor="middle" font-style="italic" textLength="13.57" lengthAdjust="spacingAndGlyphs">Rgl1</text>
<rect x="128.90" y="360.17" width="4.10" height="0.13" fill="#1f3e8a"/>
<rect x="133.00" y="358.31" width="4.10" height="1.99" fill="#b3102c"/>
<line x1="135.50" y1="358.64" x2="135.50" y2="357.98" stroke="#1a1a1a" stroke-width="0.7"/>
<line x1="134.80" y1="357.98" x2="136.20" y2="357.98" stroke="#1a1a1a" stroke-width="0.7"/>
<rect x="137.10" y="359.97" width="4.10" height="0.33" fill="#5aab3c"/>
<line x1="139.50" y1="360.10" x2="139.50" y2="359.84" stroke="#1a1a1a" stroke-width="0.7"/>
<line x1="138.80" y1="359.84" x2="140.20" y2="359.84" stroke="#1a1a1a" stroke-width="0.7"/>
<rect x="141.20" y="359.64" width="4.10" height="0.66" fill="#f3c21a"/>
<line x1="143.50" y1="359.84" x2="143.50" y2="359.44" stroke="#1a1a1a" stroke-width="0.7"/>
<line x1="142.80" y1="359.44" x2="144.20" y2="359.44" stroke="#1a1a1a" stroke-width="0.7"/>
<text x="137.90" y="372.80" font-size="7.34" fill="#222" text-anchor="middle" font-style="italic" textLength="19.80" lengthAdjust="spacingAndGlyphs">Pik3cd</text>
<circle cx="49.50" cy="347.50" r="0.7" fill="#1a1a1a"/>
<circle cx="51.50" cy="347.50" r="0.7" fill="#1a1a1a"/>
<circle cx="53.50" cy="347.50" r="0.7" fill="#1a1a1a"/>
<line x1="49.80" y1="349.10" x2="53.80" y2="349.10" stroke="#555" stroke-width="0.45"/>
<rect x="53.90" y="343.00" width="3.6" height="2.6" fill="none" stroke="#444" stroke-width="0.5"/>
<line x1="53.30" y1="346.20" x2="58.10" y2="346.20" stroke="#666" stroke-width="0.4"/>
<text x="57.50" y="341.50" font-size="4.8" fill="#333" text-anchor="middle">n.s</text>
<line x1="53.00" y1="342.10" x2="62.30" y2="342.10" stroke="#444" stroke-width="0.5"/>
<circle cx="76.50" cy="296.50" r="0.7" fill="#1a1a1a"/>
<circle cx="79.50" cy="296.50" r="0.7" fill="#1a1a1a"/>
<circle cx="81.50" cy="296.50" r="0.7" fill="#1a1a1a"/>
<line x1="77.00" y1="297.60" x2="81.00" y2="297.60" stroke="#555" stroke-width="0.45"/>
<rect x="81.10" y="291.30" width="3.6" height="2.6" fill="none" stroke="#444" stroke-width="0.5"/>
<line x1="80.50" y1="294.50" x2="85.30" y2="294.50" stroke="#666" stroke-width="0.4"/>
<text x="84.70" y="289.90" font-size="4.8" fill="#333" text-anchor="middle">n.s</text>
<line x1="80.20" y1="290.50" x2="89.50" y2="290.50" stroke="#444" stroke-width="0.5"/>
<circle cx="104.50" cy="331.50" r="0.7" fill="#1a1a1a"/>
<circle cx="106.50" cy="331.50" r="0.7" fill="#1a1a1a"/>
<circle cx="108.50" cy="331.50" r="0.7" fill="#1a1a1a"/>
<line x1="104.20" y1="332.60" x2="108.20" y2="332.60" stroke="#555" stroke-width="0.45"/>
<rect x="108.30" y="326.60" width="3.6" height="2.6" fill="none" stroke="#444" stroke-width="0.5"/>
<line x1="107.70" y1="329.80" x2="112.50" y2="329.80" stroke="#666" stroke-width="0.4"/>
<circle cx="111.50" cy="324.50" r="0.7" fill="#1a1a1a"/>
<line x1="107.40" y1="326.50" x2="116.70" y2="326.50" stroke="#444" stroke-width="0.5"/>
<circle cx="131.50" cy="356.50" r="0.7" fill="#1a1a1a"/>
<circle cx="133.50" cy="356.50" r="0.7" fill="#1a1a1a"/>
<circle cx="135.50" cy="356.50" r="0.7" fill="#1a1a1a"/>
<line x1="131.40" y1="358.40" x2="135.40" y2="358.40" stroke="#555" stroke-width="0.45"/>
<rect x="135.50" y="352.10" width="3.6" height="2.6" fill="none" stroke="#444" stroke-width="0.5"/>
<line x1="134.90" y1="355.30" x2="139.70" y2="355.30" stroke="#666" stroke-width="0.4"/>
<circle cx="138.50" cy="349.50" r="0.7" fill="#1a1a1a"/>
<circle cx="140.50" cy="349.50" r="0.7" fill="#1a1a1a"/>
<line x1="134.60" y1="351.80" x2="143.90" y2="351.80" stroke="#444" stroke-width="0.5"/>
<rect x="105.50" y="279.10" width="3.40" height="3.40" fill="#1f3e8a"/>
<text x="112.00" y="282.80" font-size="5.6" fill="#222">shControl</text>
<rect x="105.50" y="285.08" width="3.40" height="3.40" fill="#b3102c"/>
<text x="112.00" y="288.78" font-size="5.6" fill="#222">shCebpa#1</text>
<rect x="105.50" y="291.06" width="3.40" height="3.40" fill="#5aab3c"/>
<text x="112.00" y="294.76" font-size="5.6" fill="#222">shCebpa#1+p42</text>
<rect x="105.50" y="297.04" width="3.40" height="3.40" fill="#f3c21a"/>
<text x="112.00" y="300.74" font-size="5.6" fill="#222">shCebpa#1+p30</text>
<text x="180.80" y="295.80" font-size="6.4" fill="#222" text-anchor="end">Erg</text>
<line x1="182.60" y1="294.00" x2="184.20" y2="294.00" stroke="#222" stroke-width="0.8"/>
<text x="180.80" y="327.20" font-size="6.4" fill="#222" text-anchor="end">Myc</text>
<text x="182.80" y="355.40" font-size="6.6" fill="#222" text-anchor="end">Gapdh</text>
<rect x="185.20" y="286.30" width="35.60" height="13.00" fill="#7d7f77" stroke="#2f302c" stroke-width="1"/>
<rect x="185.20" y="301.30" width="35.00" height="41.60" fill="#7d7f77" stroke="#2f302c" stroke-width="1"/>
<rect x="185.20" y="345.40" width="35.40" height="13.40" fill="#7d7f77" stroke="#2f302c" stroke-width="1"/>
<rect x="190.20" y="293.40" width="5.60" height="1.60" rx="0.64" fill="#3a3a36" opacity="0.7" filter="url(#b1)"/>
<rect x="197.90" y="288.90" width="5.60" height="8.60" rx="2.24" fill="#2e2e2b" opacity="0.95" filter="url(#b1)"/>
<rect x="198.20" y="289.30" width="5.00" height="2.60" rx="1.04" fill="#1e1e1c" opacity="0.8" filter="url(#b1)"/>
<rect x="198.20" y="294.10" width="5.00" height="2.60" rx="1.04" fill="#1e1e1c" opacity="0.8" filter="url(#b1)"/>
<rect x="205.20" y="289.80" width="5.60" height="7.60" rx="2.24" fill="#3a3a36" opacity="0.9" filter="url(#b1)"/>
<rect x="205.50" y="290.10" width="5.00" height="2.20" rx="0.88" fill="#262624" opacity="0.8" filter="url(#b1)"/>
<rect x="205.50" y="294.30" width="5.00" height="2.20" rx="0.88" fill="#262624" opacity="0.8" filter="url(#b1)"/>
<rect x="212.60" y="288.10" width="6.60" height="10.20" rx="2.64" fill="#272825" opacity="0.97" filter="url(#b1)"/>
<rect x="203.40" y="306.70" width="7.00" height="2.80" rx="1.12" fill="#151514" opacity="1.0" filter="url(#b1)"/>
<rect x="212.20" y="329.30" width="7.20" height="2.40" rx="0.96" fill="#1c1c1a" opacity="1.0" filter="url(#b1)"/>
<rect x="186.80" y="319.50" width="6.40" height="2.60" rx="1.04" fill="#5a5c56" opacity="0.7" filter="url(#b2)"/>
<rect x="195.60" y="319.50" width="6.40" height="2.60" rx="1.04" fill="#5a5c56" opacity="0.7" filter="url(#b2)"/>
<rect x="204.00" y="319.50" width="6.40" height="2.60" rx="1.04" fill="#5a5c56" opacity="0.7" filter="url(#b2)"/>
<rect x="212.40" y="319.50" width="6.40" height="2.60" rx="1.04" fill="#5a5c56" opacity="0.7" filter="url(#b2)"/>
<rect x="186.80" y="351.20" width="7.00" height="2.80" rx="1.12" fill="#252523" opacity="1.0" filter="url(#b1)"/>
<rect x="195.70" y="351.20" width="6.20" height="2.80" rx="1.12" fill="#252523" opacity="1.0" filter="url(#b1)"/>
<rect x="204.20" y="351.20" width="6.60" height="2.80" rx="1.12" fill="#252523" opacity="1.0" filter="url(#b1)"/>
<rect x="213.00" y="351.20" width="6.60" height="2.80" rx="1.12" fill="#252523" opacity="1.0" filter="url(#b1)"/>
<text x="189.20" y="285.80" font-size="6.6" fill="#222" transform="rotate(-47 189.20 285.80)">shControl</text>
<text x="197.00" y="285.50" font-size="6.6" fill="#222" transform="rotate(-47 197.00 285.50)">shCebpa#1</text>
<text x="206.90" y="285.50" font-size="6.75" fill="#222" transform="rotate(-47 206.90 285.50)">shCebpa#1+p42</text>
<text x="216.80" y="285.50" font-size="6.75" fill="#222" transform="rotate(-47 216.80 285.50)">shCebpa#1+p30</text>
<text x="221.80" y="285.60" font-size="6.5" fill="#222">(kDa)</text>
<path d="M221.9 290.0 L224.9 288.5 L224.9 291.5 Z" fill="#111"/>
<line x1="224.30" y1="290.00" x2="226.00" y2="290.00" stroke="#111" stroke-width="0.8"/>
<text x="226.20" y="295.20" font-size="6.5" fill="#222">54</text>
<line x1="221.40" y1="292.90" x2="222.80" y2="292.90" stroke="#333" stroke-width="0.7"/>
<text x="226.20" y="311.00" font-size="6.5" fill="#222">42</text>
<line x1="221.40" y1="308.70" x2="222.80" y2="308.70" stroke="#333" stroke-width="0.7"/>
<text x="226.20" y="327.80" font-size="6.5" fill="#222">33</text>
<line x1="221.40" y1="325.50" x2="222.80" y2="325.50" stroke="#333" stroke-width="0.7"/>
<text x="226.20" y="341.50" font-size="6.5" fill="#222">29</text>
<line x1="221.40" y1="339.20" x2="222.80" y2="339.20" stroke="#333" stroke-width="0.7"/>
<text x="226.20" y="360.00" font-size="6.5" fill="#222">33</text>
<line x1="221.40" y1="357.70" x2="222.80" y2="357.70" stroke="#333" stroke-width="0.7"/>
<line x1="284.00" y1="285.70" x2="284.00" y2="362.80" stroke="#222" stroke-width="0.9"/>
<line x1="283.50" y1="360.30" x2="415.00" y2="360.30" stroke="#222" stroke-width="0.9"/>
<line x1="281.00" y1="360.30" x2="284.00" y2="360.30" stroke="#222" stroke-width="0.8"/>
<text x="278.10" y="362.50" font-size="6.2" fill="#222" text-anchor="end">0</text>
<line x1="281.00" y1="351.30" x2="284.00" y2="351.30" stroke="#222" stroke-width="0.8"/>
<text x="278.10" y="353.50" font-size="6.2" fill="#222" text-anchor="end">1</text>
<line x1="281.00" y1="342.30" x2="284.00" y2="342.30" stroke="#222" stroke-width="0.8"/>
<text x="278.10" y="344.50" font-size="6.2" fill="#222" text-anchor="end">2</text>
<line x1="281.00" y1="333.30" x2="284.00" y2="333.30" stroke="#222" stroke-width="0.8"/>
<text x="278.10" y="335.50" font-size="6.2" fill="#222" text-anchor="end">3</text>
<line x1="281.00" y1="324.30" x2="284.00" y2="324.30" stroke="#222" stroke-width="0.8"/>
<text x="278.10" y="326.50" font-size="6.2" fill="#222" text-anchor="end">4</text>
<line x1="281.00" y1="315.30" x2="284.00" y2="315.30" stroke="#222" stroke-width="0.8"/>
<text x="278.10" y="317.50" font-size="6.2" fill="#222" text-anchor="end">5</text>
<line x1="281.00" y1="306.30" x2="284.00" y2="306.30" stroke="#222" stroke-width="0.8"/>
<text x="278.10" y="308.50" font-size="6.2" fill="#222" text-anchor="end">6</text>
<line x1="281.00" y1="297.30" x2="284.00" y2="297.30" stroke="#222" stroke-width="0.8"/>
<text x="278.10" y="299.50" font-size="6.2" fill="#222" text-anchor="end">7</text>
<line x1="281.00" y1="288.30" x2="284.00" y2="288.30" stroke="#222" stroke-width="0.8"/>
<text x="278.10" y="290.50" font-size="6.2" fill="#222" text-anchor="end">8</text>
<text x="267.90" y="323.00" font-size="7.0" fill="#222" text-anchor="middle" transform="rotate(-90 267.90 323.00)">% input</text>
<line x1="309.95" y1="360.30" x2="309.95" y2="362.80" stroke="#222" stroke-width="0.8"/>
<line x1="335.90" y1="360.30" x2="335.90" y2="362.80" stroke="#222" stroke-width="0.8"/>
<line x1="361.85" y1="360.30" x2="361.85" y2="362.80" stroke="#222" stroke-width="0.8"/>
<line x1="387.80" y1="360.30" x2="387.80" y2="362.80" stroke="#222" stroke-width="0.8"/>
<line x1="413.75" y1="360.30" x2="413.75" y2="362.80" stroke="#222" stroke-width="0.8"/>
<rect x="286.40" y="359.55" width="2.60" height="0.75" fill="#1f3e8a"/>
<rect x="289.00" y="359.64" width="2.60" height="0.66" fill="#e8901c"/>
<rect x="291.60" y="359.64" width="2.60" height="0.66" fill="#5aab3c"/>
<rect x="294.20" y="359.55" width="2.60" height="0.75" fill="#9d5519"/>
<rect x="296.80" y="351.90" width="2.60" height="8.40" fill="#b2bd8e"/>
<rect x="299.40" y="321.84" width="2.60" height="38.46" fill="#b3102c"/>
<rect x="302.00" y="330.30" width="2.60" height="30.00" fill="#f3c21a"/>
<rect x="304.60" y="311.40" width="2.60" height="48.90" fill="#4a1a66"/>
<rect x="296.80" y="345.00" width="2.60" height="7.20" fill="#b9c3cb"/>
<line x1="300.50" y1="331.68" x2="300.50" y2="312.60" stroke="#1a1a1a" stroke-width="0.75"/>
<rect x="302.00" y="325.65" width="2.60" height="4.95" fill="#b9c3cb"/>
<line x1="305.50" y1="323.40" x2="305.50" y2="300.00" stroke="#1a1a1a" stroke-width="0.75"/>
<text x="297.48" y="371.60" font-size="7.34" fill="#222" text-anchor="middle" font-style="italic" textLength="10.26" lengthAdjust="spacingAndGlyphs">Erg</text>
<rect x="312.35" y="359.55" width="2.60" height="0.75" fill="#1f3e8a"/>
<rect x="314.95" y="359.55" width="2.60" height="0.75" fill="#e8901c"/>
<rect x="317.55" y="359.55" width="2.60" height="0.75" fill="#5aab3c"/>
<rect x="320.15" y="359.55" width="2.60" height="0.75" fill="#9d5519"/>
<rect x="322.75" y="353.70" width="2.60" height="6.60" fill="#b2bd8e"/>
<rect x="325.35" y="344.70" width="2.60" height="15.60" fill="#b3102c"/>
<rect x="327.95" y="351.90" width="2.60" height="8.40" fill="#f3c21a"/>
<rect x="330.55" y="347.40" width="2.60" height="12.90" fill="#4a1a66"/>
<rect x="322.75" y="353.10" width="2.60" height="0.90" fill="#b9c3cb"/>
<line x1="326.50" y1="353.55" x2="326.50" y2="336.45" stroke="#1a1a1a" stroke-width="0.75"/>
<rect x="327.95" y="349.05" width="2.60" height="3.15" fill="#b9c3cb"/>
<line x1="331.50" y1="353.55" x2="331.50" y2="341.85" stroke="#1a1a1a" stroke-width="0.75"/>
<text x="323.43" y="371.60" font-size="7.34" fill="#222" text-anchor="middle" font-style="italic" textLength="18.70" lengthAdjust="spacingAndGlyphs">Spns2</text>
<rect x="338.30" y="359.55" width="2.60" height="0.75" fill="#1f3e8a"/>
<rect x="340.90" y="359.55" width="2.60" height="0.75" fill="#e8901c"/>
<rect x="343.50" y="359.55" width="2.60" height="0.75" fill="#5aab3c"/>
<rect x="346.10" y="359.55" width="2.60" height="0.75" fill="#9d5519"/>
<rect x="348.70" y="356.40" width="2.60" height="3.90" fill="#b2bd8e"/>
<rect x="351.30" y="342.90" width="2.60" height="17.40" fill="#b3102c"/>
<rect x="353.90" y="350.10" width="2.60" height="10.20" fill="#f3c21a"/>
<rect x="356.50" y="343.35" width="2.60" height="16.95" fill="#4a1a66"/>
<rect x="348.70" y="355.80" width="2.60" height="0.90" fill="#b9c3cb"/>
<line x1="352.50" y1="350.40" x2="352.50" y2="336.00" stroke="#1a1a1a" stroke-width="0.75"/>
<rect x="353.90" y="347.25" width="2.60" height="3.15" fill="#b9c3cb"/>
<line x1="357.50" y1="350.40" x2="357.50" y2="336.90" stroke="#1a1a1a" stroke-width="0.75"/>
<text x="349.38" y="371.60" font-size="7.34" fill="#222" text-anchor="middle" font-style="italic" textLength="13.57" lengthAdjust="spacingAndGlyphs">Rgl1</text>
<rect x="364.25" y="359.64" width="2.60" height="0.66" fill="#1f3e8a"/>
<rect x="366.85" y="359.55" width="2.60" height="0.75" fill="#e8901c"/>
<rect x="369.45" y="359.55" width="2.60" height="0.75" fill="#5aab3c"/>
<rect x="372.05" y="359.10" width="2.60" height="1.20" fill="#9d5519"/>
<rect x="374.65" y="353.70" width="2.60" height="6.60" fill="#b2bd8e"/>
<rect x="377.25" y="337.50" width="2.60" height="22.80" fill="#b3102c"/>
<rect x="379.85" y="337.50" width="2.60" height="22.80" fill="#f3c21a"/>
<rect x="382.45" y="340.20" width="2.60" height="20.10" fill="#4a1a66"/>
<line x1="375.50" y1="360.30" x2="375.50" y2="346.80" stroke="#1a1a1a" stroke-width="0.75"/>
<line x1="378.50" y1="354.00" x2="378.50" y2="321.60" stroke="#8a8f96" stroke-width="0.8"/>
<line x1="381.50" y1="354.90" x2="381.50" y2="320.70" stroke="#8a8f96" stroke-width="0.8"/>
<line x1="383.50" y1="353.10" x2="383.50" y2="327.90" stroke="#8a8f96" stroke-width="0.8"/>
<text x="375.33" y="371.60" font-size="7.34" fill="#222" text-anchor="middle" font-style="italic" textLength="19.80" lengthAdjust="spacingAndGlyphs">Pik3cd</text>
<rect x="390.20" y="358.65" width="2.60" height="1.65" fill="#1f3e8a"/>
<rect x="392.80" y="359.10" width="2.60" height="1.20" fill="#e8901c"/>
<rect x="395.40" y="359.55" width="2.60" height="0.75" fill="#5aab3c"/>
<rect x="398.00" y="359.55" width="2.60" height="0.75" fill="#9d5519"/>
<rect x="400.60" y="350.37" width="2.60" height="9.93" fill="#b2bd8e"/>
<rect x="403.20" y="345.60" width="2.60" height="14.70" fill="#b3102c"/>
<rect x="405.80" y="343.08" width="2.60" height="17.22" fill="#f3c21a"/>
<rect x="408.40" y="348.48" width="2.60" height="11.82" fill="#4a1a66"/>
<line x1="401.50" y1="350.67" x2="401.50" y2="350.67" stroke="#1a1a1a" stroke-width="0.75"/>
<rect x="403.20" y="341.04" width="2.60" height="4.86" fill="#b9c3cb"/>
<line x1="407.50" y1="353.46" x2="407.50" y2="333.30" stroke="#1a1a1a" stroke-width="0.75"/>
<rect x="408.40" y="345.90" width="2.60" height="2.88" fill="#b9c3cb"/>
<text x="401.28" y="371.60" font-size="7.34" fill="#222" text-anchor="middle" font-style="italic" textLength="19.07" lengthAdjust="spacingAndGlyphs">Chek1</text>
<circle cx="298.50" cy="309.50" r="0.7" fill="#1a1a1a"/>
<circle cx="300.50" cy="309.50" r="0.7" fill="#1a1a1a"/>
<line x1="296.40" y1="310.80" x2="302.40" y2="310.80" stroke="#444" stroke-width="0.5"/>
<text x="299.60" y="307.10" font-size="4.8" fill="#222" text-anchor="middle">n.s</text>
<line x1="297.60" y1="307.40" x2="301.60" y2="307.40" stroke="#444" stroke-width="0.5"/>
<circle cx="324.50" cy="335.50" r="0.7" fill="#1a1a1a"/>
<circle cx="326.50" cy="335.50" r="0.7" fill="#1a1a1a"/>
<line x1="323.00" y1="336.70" x2="328.00" y2="336.70" stroke="#444" stroke-width="0.5"/>
<circle cx="328.50" cy="330.50" r="0.7" fill="#1a1a1a"/>
<line x1="326.40" y1="332.20" x2="330.40" y2="332.20" stroke="#444" stroke-width="0.5"/>
<text x="329.60" y="327.70" font-size="4.8" fill="#222" text-anchor="middle">n.s</text>
<line x1="326.10" y1="328.00" x2="333.10" y2="328.00" stroke="#444" stroke-width="0.5"/>
<line x1="329.60" y1="328.00" x2="329.60" y2="330.00" stroke="#444" stroke-width="0.5"/>
<circle cx="348.50" cy="333.50" r="0.7" fill="#1a1a1a"/>
<circle cx="350.50" cy="333.50" r="0.7" fill="#1a1a1a"/>
<circle cx="352.50" cy="333.50" r="0.7" fill="#1a1a1a"/>
<line x1="347.20" y1="335.20" x2="353.20" y2="335.20" stroke="#444" stroke-width="0.5"/>
<circle cx="352.50" cy="330.50" r="0.7" fill="#1a1a1a"/>
<circle cx="354.50" cy="330.50" r="0.7" fill="#1a1a1a"/>
<line x1="350.70" y1="332.20" x2="355.70" y2="332.20" stroke="#444" stroke-width="0.5"/>
<text x="354.40" y="327.70" font-size="4.8" fill="#222" text-anchor="middle">n.s</text>
<line x1="350.90" y1="328.00" x2="357.90" y2="328.00" stroke="#444" stroke-width="0.5"/>
<circle cx="374.50" cy="320.50" r="0.7" fill="#1a1a1a"/>
<circle cx="376.50" cy="320.50" r="0.7" fill="#1a1a1a"/>
<line x1="372.75" y1="322.10" x2="377.25" y2="322.10" stroke="#444" stroke-width="0.5"/>
<text x="380.0" y="314.6" font-size="4.6" fill="#222" text-anchor="middle" transform="rotate(-90 380.0 314.6)">n.s</text>
<text x="382.4" y="314.6" font-size="4.6" fill="#222" text-anchor="middle" transform="rotate(-90 382.4 314.6)">n.s</text>
<line x1="377.60" y1="311.00" x2="377.60" y2="319.00" stroke="#444" stroke-width="0.5"/>
<text x="401.2" y="335.4" font-size="4.6" fill="#222" text-anchor="middle" transform="rotate(-90 401.2 335.4)">n.s</text>
<text x="405.2" y="330.2" font-size="4.6" fill="#222" text-anchor="middle" transform="rotate(-90 405.2 330.2)">n.s</text>
<text x="407.8" y="330.2" font-size="4.6" fill="#222" text-anchor="middle" transform="rotate(-90 407.8 330.2)">n.s</text>
<line x1="402.50" y1="325.50" x2="402.50" y2="333.00" stroke="#444" stroke-width="0.5"/>
<rect x="310.20" y="282.90" width="3.10" height="3.10" fill="#1f3e8a"/>
<text x="317.00" y="286.30" font-size="5.5" fill="#222">shControl IgG</text>
<rect x="310.20" y="288.55" width="3.10" height="3.10" fill="#e8901c"/>
<text x="317.00" y="291.95" font-size="5.5" fill="#222">shCebpa#1 IgG</text>
<rect x="310.20" y="294.20" width="3.10" height="3.10" fill="#5aab3c"/>
<text x="317.00" y="297.60" font-size="5.5" fill="#222">shCebpa#1+p42 IgG</text>
<rect x="310.20" y="299.85" width="3.10" height="3.10" fill="#9d5519"/>
<text x="317.00" y="303.25" font-size="5.5" fill="#222">shCebpa#1+p30 IgG</text>
<rect x="371.20" y="283.00" width="3.10" height="3.10" fill="#b2bd8e"/>
<text x="378.00" y="286.40" font-size="5.5" fill="#222">shControl H3K27ac</text>
<rect x="371.20" y="288.67" width="3.10" height="3.10" fill="#b3102c"/>
<text x="378.00" y="292.07" font-size="5.5" fill="#222">shCebpa#1 H3K27ac</text>
<rect x="371.20" y="294.34" width="3.10" height="3.10" fill="#f3c21a"/>
<text x="378.00" y="297.74" font-size="5.5" fill="#222">shCebpa#1+p42 H3K27ac</text>
<rect x="371.20" y="300.01" width="3.10" height="3.10" fill="#4a1a66"/>
<text x="378.00" y="303.41" font-size="5.5" fill="#222">shCebpa#1+p30 H3K27ac</text>
</svg>
<div class="frame"></div>
</body></html>
